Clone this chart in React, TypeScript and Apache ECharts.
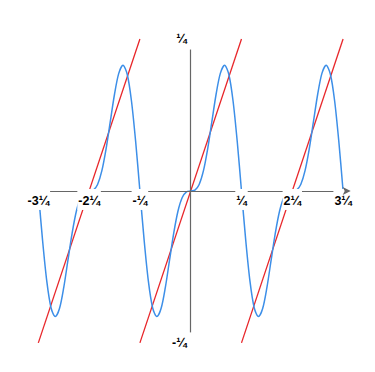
import React, { useEffect, useRef } from "react";
import * as echarts from "echarts";

// x and y are expressed in units of the "¼" symbol (π)
const xTicks = [-3, -2, -1, 1, 2, 3];
const xTickLabels = ["-3¼", "-2¼", "-¼", "¼", "2¼", "3¼"];
const yTicks = [-1, 1];
const yTickLabels = ["-¼", "¼"];

const sampleStart = -3;
const sampleStep = 1 / 12;

// blue curve samples (value / π)
const blueValues = [
  0, -0.3239, -0.594, -0.7685, -0.827, -0.7741, -0.6366, -0.4558, -0.2757, -0.1318, -0.0427, -0.0056,
  0, 0.0056, 0.0427, 0.1318, 0.2757, 0.4558, 0.6366, 0.7741, 0.827, 0.7685, 0.594, 0.3239,
  0, -0.3239, -0.594, -0.7685, -0.827, -0.7741, -0.6366, -0.4558, -0.2757, -0.1318, -0.0427, -0.0056,
  0, 0.0056, 0.0427, 0.1318, 0.2757, 0.4558, 0.6366, 0.7741, 0.827, 0.7685, 0.594, 0.3239,
  0, -0.3239, -0.594, -0.7685, -0.827, -0.7741, -0.6366, -0.4558, -0.2757, -0.1318, -0.0427, -0.0056,
  0, 0.0056, 0.0427, 0.1318, 0.2757, 0.4558, 0.6366, 0.7741, 0.827, 0.7685, 0.594, 0.3239,
  0,
];

// red sawtooth segments
const redSegmentA = [[-3, -1], [-1, 1]];
const redSegmentB = [[-1, -1], [1, 1]];
const redSegmentC = [[1, -1], [3, 1]];

const X_MIN = -3.15;
const X_MAX = 3.15;
const Y_MIN = -1.06;
const Y_MAX = 1.02;

function labelFor(v: number, ticks: number[], labels: string[]) {
  for (let i = 0; i < ticks.length; i++) {
    if (Math.abs(ticks[i] - v) < 1e-6) return labels[i];
  }
  return "";
}

export default function App() {
  const ref = useRef<HTMLDivElement>(null);
  useEffect(() => {
    if (!ref.current) return;
    const chart = echarts.init(ref.current, undefined, { renderer: "svg" });
    const gridLeft = 30.7;
    const gridTop = 36;
    const gridW = 320;
    const gridH = 316;
    // move the axes onto the zero lines
    const xAxisOffset = -(gridH * (0 - Y_MIN)) / (Y_MAX - Y_MIN);
    const yAxisOffset = -(gridW * (0 - X_MIN)) / (X_MAX - X_MIN);
    const blueData = blueValues.map((y, i) => [sampleStart + i * sampleStep, y]);
    const axisLineStyle = { color: "#666", width: 1.2 };
    const labelFont = {
      fontFamily: "Liberation Sans, Arial, sans-serif",
      fontWeight: "bold" as const,
      fontSize: 12.5,
      color: "#000",
      backgroundColor: "#fff",
    };
    const redSeries = (data: number[][]) => ({
      type: "line",
      data,
      showSymbol: false,
      lineStyle: { color: "#e8262a", width: 1.3 },
      z: 2,
    });
    chart.setOption({
      animation: false,
      grid: {
        left: gridLeft,
        top: gridTop,
        width: gridW,
        height: gridH,
        containLabel: false,
        outerBoundsMode: "none",
      },
      xAxis: {
        type: "value",
        min: X_MIN,
        max: X_MAX,
        position: "bottom",
        offset: xAxisOffset,
        z: 10,
        axisLine: {
          onZero: false,
          lineStyle: axisLineStyle,
          symbol: ["none", "arrow"],
          symbolSize: [6, 8],
        },
        axisTick: { show: false },
        splitLine: { show: false },
        axisLabel: {
          ...labelFont,
          customValues: xTicks,
          margin: -2,
          padding: [6, 1, 2, 1],
          formatter: (v: number) => labelFor(v, xTicks, xTickLabels),
        },
      },
      yAxis: {
        type: "value",
        min: Y_MIN,
        max: Y_MAX,
        position: "left",
        offset: yAxisOffset,
        z: 10,
        axisLine: {
          onZero: false,
          lineStyle: axisLineStyle,
        },
        axisTick: { show: false },
        splitLine: { show: false },
        axisLabel: {
          ...labelFont,
          customValues: yTicks,
          margin: -2,
          padding: [5, 6, 3, 2],
          formatter: (v: number) => labelFor(v, yTicks, yTickLabels),
        },
      },
      series: [
        redSeries(redSegmentA),
        redSeries(redSegmentB),
        redSeries(redSegmentC),
        {
          type: "line",
          data: blueData,
          showSymbol: false,
          smooth: 0.3,
          lineStyle: { color: "#3d8fe8", width: 1.5 },
          z: 3,
        },
      ],
    });
    return () => chart.dispose();
  }, []);
  return (
    <div
      ref={ref}
      style={{ position: "fixed", left: 0, top: 0, width: 375, height: 372, background: "#fff" }}
    />
  );
}
